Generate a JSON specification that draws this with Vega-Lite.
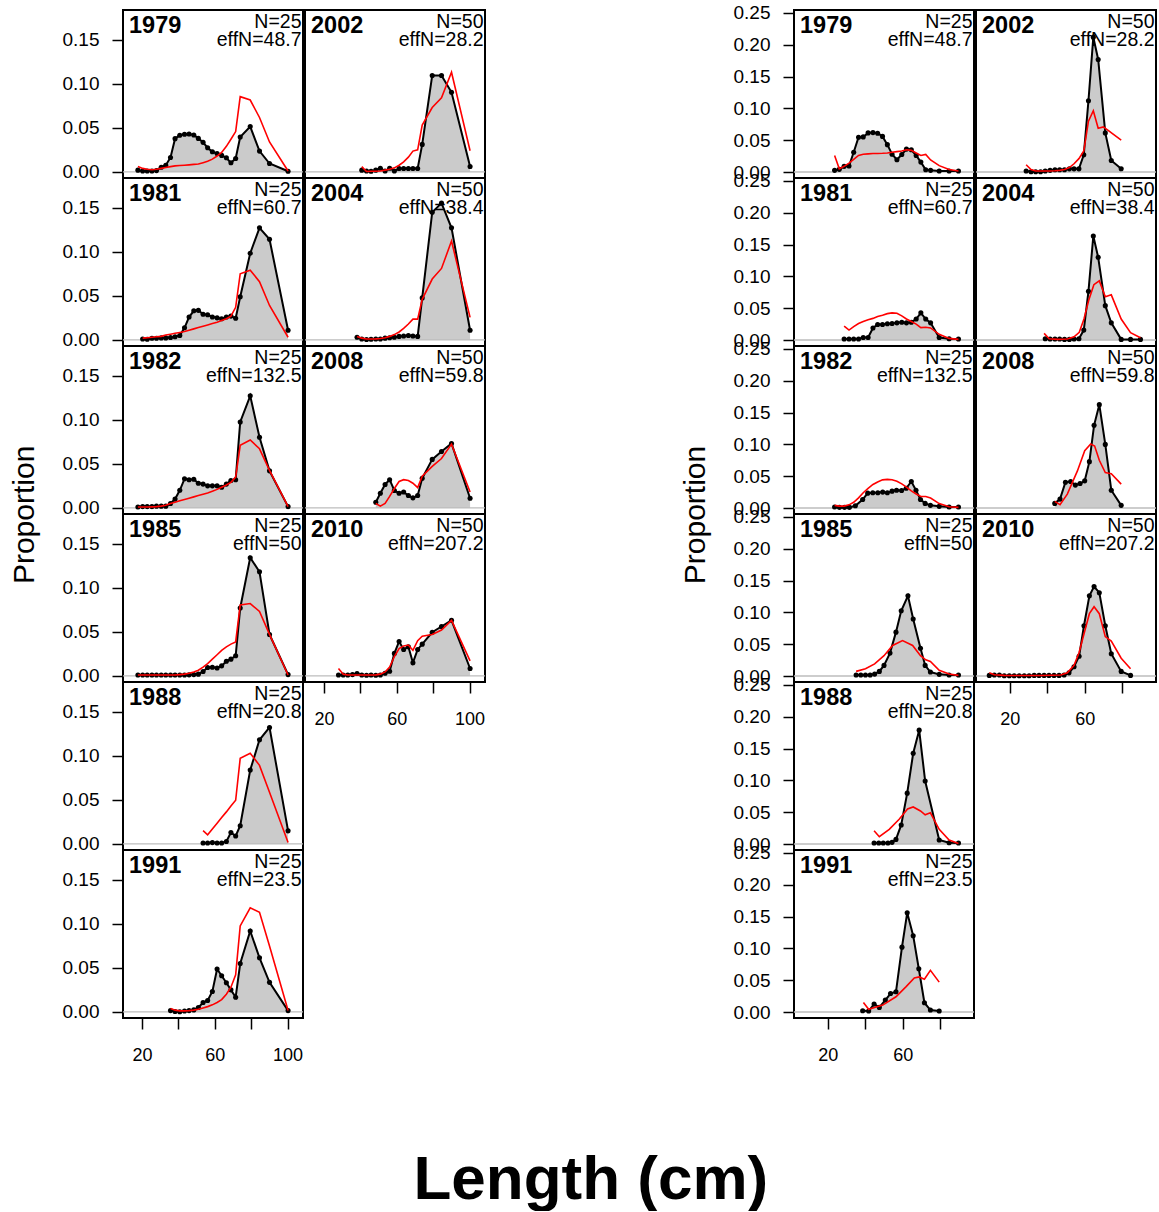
{
"$schema": "https://vega.github.io/schema/vega-lite/v6.json",
"background": "white",
"padding": {"left": 10, "top": 3, "right": 0, "bottom": 0},
"config": {"view": {"stroke": "black", "strokeWidth": 2}, "font": "Liberation Sans"},
"datasets": {
"L1": [
{"yr":"1979","s":"lab","N":"N=25","eff":"effN=48.7"},
{"yr":"1979","s":"o","x":17.8,"y":0.002},{"yr":"1979","s":"o","x":20.4,"y":0.001},{"yr":"1979","s":"o","x":22.9,"y":0.001},{"yr":"1979","s":"o","x":25.5,"y":0.001},{"yr":"1979","s":"o","x":28.0,"y":0.0015},{"yr":"1979","s":"o","x":30.6,"y":0.0053},{"yr":"1979","s":"o","x":33.1,"y":0.0076},{"yr":"1979","s":"o","x":35.7,"y":0.0164},{"yr":"1979","s":"o","x":38.2,"y":0.0377},{"yr":"1979","s":"o","x":40.8,"y":0.0415},{"yr":"1979","s":"o","x":43.4,"y":0.0426},{"yr":"1979","s":"o","x":45.9,"y":0.043},{"yr":"1979","s":"o","x":48.5,"y":0.0419},{"yr":"1979","s":"o","x":51.0,"y":0.038},{"yr":"1979","s":"o","x":53.6,"y":0.0335},{"yr":"1979","s":"o","x":56.1,"y":0.0274},{"yr":"1979","s":"o","x":58.7,"y":0.0228},{"yr":"1979","s":"o","x":61.3,"y":0.0209},{"yr":"1979","s":"o","x":63.8,"y":0.0187},{"yr":"1979","s":"o","x":66.4,"y":0.016},{"yr":"1979","s":"o","x":68.9,"y":0.0103},{"yr":"1979","s":"o","x":71.5,"y":0.0152},{"yr":"1979","s":"o","x":74.0,"y":0.0396},{"yr":"1979","s":"o","x":79.5,"y":0.0514},{"yr":"1979","s":"o","x":84.6,"y":0.0236},{"yr":"1979","s":"o","x":90.1,"y":0.0095},{"yr":"1979","s":"o","x":100.3,"y":0.0008},
{"yr":"1979","s":"e","x":17.8,"y":0.006},{"yr":"1979","s":"e","x":20.4,"y":0.004},{"yr":"1979","s":"e","x":22.9,"y":0.003},{"yr":"1979","s":"e","x":25.5,"y":0.0025},{"yr":"1979","s":"e","x":28.0,"y":0.003},{"yr":"1979","s":"e","x":30.6,"y":0.004},{"yr":"1979","s":"e","x":33.1,"y":0.005},{"yr":"1979","s":"e","x":35.7,"y":0.006},{"yr":"1979","s":"e","x":38.2,"y":0.0068},{"yr":"1979","s":"e","x":40.8,"y":0.0072},{"yr":"1979","s":"e","x":43.4,"y":0.0076},{"yr":"1979","s":"e","x":45.9,"y":0.008},{"yr":"1979","s":"e","x":48.5,"y":0.0085},{"yr":"1979","s":"e","x":51.0,"y":0.009},{"yr":"1979","s":"e","x":53.6,"y":0.0105},{"yr":"1979","s":"e","x":56.1,"y":0.012},{"yr":"1979","s":"e","x":58.7,"y":0.0145},{"yr":"1979","s":"e","x":61.3,"y":0.018},{"yr":"1979","s":"e","x":63.8,"y":0.022},{"yr":"1979","s":"e","x":66.4,"y":0.029},{"yr":"1979","s":"e","x":68.9,"y":0.037},{"yr":"1979","s":"e","x":71.5,"y":0.0457},{"yr":"1979","s":"e","x":74.0,"y":0.0853},{"yr":"1979","s":"e","x":79.5,"y":0.0815},{"yr":"1979","s":"e","x":84.6,"y":0.0617},{"yr":"1979","s":"e","x":90.1,"y":0.0339},{"yr":"1979","s":"e","x":100.3,"y":0.001},
{"yr":"1981","s":"lab","N":"N=25","eff":"effN=60.7"},
{"yr":"1981","s":"o","x":20.4,"y":0.0011},{"yr":"1981","s":"o","x":22.9,"y":0.0008},{"yr":"1981","s":"o","x":25.5,"y":0.0019},{"yr":"1981","s":"o","x":28.0,"y":0.0019},{"yr":"1981","s":"o","x":30.6,"y":0.0023},{"yr":"1981","s":"o","x":33.1,"y":0.0023},{"yr":"1981","s":"o","x":35.7,"y":0.0027},{"yr":"1981","s":"o","x":38.2,"y":0.0035},{"yr":"1981","s":"o","x":40.8,"y":0.005},{"yr":"1981","s":"o","x":43.4,"y":0.0137},{"yr":"1981","s":"o","x":45.9,"y":0.0259},{"yr":"1981","s":"o","x":48.5,"y":0.033},{"yr":"1981","s":"o","x":51.0,"y":0.0335},{"yr":"1981","s":"o","x":53.6,"y":0.029},{"yr":"1981","s":"o","x":56.1,"y":0.0285},{"yr":"1981","s":"o","x":58.7,"y":0.026},{"yr":"1981","s":"o","x":61.3,"y":0.025},{"yr":"1981","s":"o","x":63.8,"y":0.024},{"yr":"1981","s":"o","x":66.4,"y":0.026},{"yr":"1981","s":"o","x":68.9,"y":0.027},{"yr":"1981","s":"o","x":71.5,"y":0.0245},{"yr":"1981","s":"o","x":74.0,"y":0.049},{"yr":"1981","s":"o","x":79.5,"y":0.0982},{"yr":"1981","s":"o","x":84.6,"y":0.127},{"yr":"1981","s":"o","x":90.1,"y":0.114},{"yr":"1981","s":"o","x":100.3,"y":0.011},
{"yr":"1981","s":"e","x":20.4,"y":0.002},{"yr":"1981","s":"e","x":22.9,"y":0.0025},{"yr":"1981","s":"e","x":25.5,"y":0.003},{"yr":"1981","s":"e","x":28.0,"y":0.0035},{"yr":"1981","s":"e","x":30.6,"y":0.004},{"yr":"1981","s":"e","x":33.1,"y":0.0055},{"yr":"1981","s":"e","x":35.7,"y":0.0065},{"yr":"1981","s":"e","x":38.2,"y":0.0075},{"yr":"1981","s":"e","x":40.8,"y":0.0085},{"yr":"1981","s":"e","x":43.4,"y":0.0095},{"yr":"1981","s":"e","x":45.9,"y":0.011},{"yr":"1981","s":"e","x":48.5,"y":0.0125},{"yr":"1981","s":"e","x":51.0,"y":0.014},{"yr":"1981","s":"e","x":53.6,"y":0.0155},{"yr":"1981","s":"e","x":56.1,"y":0.017},{"yr":"1981","s":"e","x":58.7,"y":0.0185},{"yr":"1981","s":"e","x":61.3,"y":0.02},{"yr":"1981","s":"e","x":63.8,"y":0.022},{"yr":"1981","s":"e","x":66.4,"y":0.024},{"yr":"1981","s":"e","x":68.9,"y":0.027},{"yr":"1981","s":"e","x":71.5,"y":0.037},{"yr":"1981","s":"e","x":74.0,"y":0.075},{"yr":"1981","s":"e","x":79.5,"y":0.079},{"yr":"1981","s":"e","x":84.6,"y":0.066},{"yr":"1981","s":"e","x":90.1,"y":0.039},{"yr":"1981","s":"e","x":100.3,"y":0.003},
{"yr":"1982","s":"lab","N":"N=25","eff":"effN=132.5"},
{"yr":"1982","s":"o","x":17.8,"y":0.001},{"yr":"1982","s":"o","x":20.4,"y":0.0015},{"yr":"1982","s":"o","x":22.9,"y":0.0015},{"yr":"1982","s":"o","x":25.5,"y":0.0015},{"yr":"1982","s":"o","x":28.0,"y":0.002},{"yr":"1982","s":"o","x":30.6,"y":0.002},{"yr":"1982","s":"o","x":33.1,"y":0.002},{"yr":"1982","s":"o","x":35.7,"y":0.005},{"yr":"1982","s":"o","x":38.2,"y":0.01},{"yr":"1982","s":"o","x":40.8,"y":0.02},{"yr":"1982","s":"o","x":43.4,"y":0.033},{"yr":"1982","s":"o","x":45.9,"y":0.032},{"yr":"1982","s":"o","x":48.5,"y":0.0325},{"yr":"1982","s":"o","x":51.0,"y":0.028},{"yr":"1982","s":"o","x":53.6,"y":0.027},{"yr":"1982","s":"o","x":56.1,"y":0.025},{"yr":"1982","s":"o","x":58.7,"y":0.025},{"yr":"1982","s":"o","x":61.3,"y":0.025},{"yr":"1982","s":"o","x":63.8,"y":0.0235},{"yr":"1982","s":"o","x":66.4,"y":0.027},{"yr":"1982","s":"o","x":68.9,"y":0.031},{"yr":"1982","s":"o","x":71.5,"y":0.032},{"yr":"1982","s":"o","x":74.0,"y":0.0974},{"yr":"1982","s":"o","x":79.5,"y":0.127},{"yr":"1982","s":"o","x":84.6,"y":0.08},{"yr":"1982","s":"o","x":90.1,"y":0.042},{"yr":"1982","s":"o","x":100.3,"y":0.0015},
{"yr":"1982","s":"e","x":17.8,"y":0.001},{"yr":"1982","s":"e","x":20.4,"y":0.001},{"yr":"1982","s":"e","x":22.9,"y":0.001},{"yr":"1982","s":"e","x":25.5,"y":0.0012},{"yr":"1982","s":"e","x":28.0,"y":0.0015},{"yr":"1982","s":"e","x":30.6,"y":0.002},{"yr":"1982","s":"e","x":33.1,"y":0.003},{"yr":"1982","s":"e","x":35.7,"y":0.005},{"yr":"1982","s":"e","x":38.2,"y":0.0065},{"yr":"1982","s":"e","x":40.8,"y":0.008},{"yr":"1982","s":"e","x":43.4,"y":0.0095},{"yr":"1982","s":"e","x":45.9,"y":0.011},{"yr":"1982","s":"e","x":48.5,"y":0.0125},{"yr":"1982","s":"e","x":51.0,"y":0.014},{"yr":"1982","s":"e","x":53.6,"y":0.0155},{"yr":"1982","s":"e","x":56.1,"y":0.017},{"yr":"1982","s":"e","x":58.7,"y":0.019},{"yr":"1982","s":"e","x":61.3,"y":0.021},{"yr":"1982","s":"e","x":63.8,"y":0.0235},{"yr":"1982","s":"e","x":66.4,"y":0.026},{"yr":"1982","s":"e","x":68.9,"y":0.029},{"yr":"1982","s":"e","x":71.5,"y":0.035},{"yr":"1982","s":"e","x":74.0,"y":0.071},{"yr":"1982","s":"e","x":79.5,"y":0.077},{"yr":"1982","s":"e","x":84.6,"y":0.067},{"yr":"1982","s":"e","x":90.1,"y":0.0426},{"yr":"1982","s":"e","x":100.3,"y":0.0015},
{"yr":"1985","s":"lab","N":"N=25","eff":"effN=50"},
{"yr":"1985","s":"o","x":17.8,"y":0.001},{"yr":"1985","s":"o","x":20.4,"y":0.001},{"yr":"1985","s":"o","x":22.9,"y":0.001},{"yr":"1985","s":"o","x":25.5,"y":0.001},{"yr":"1985","s":"o","x":28.0,"y":0.001},{"yr":"1985","s":"o","x":30.6,"y":0.001},{"yr":"1985","s":"o","x":33.1,"y":0.001},{"yr":"1985","s":"o","x":35.7,"y":0.001},{"yr":"1985","s":"o","x":38.2,"y":0.001},{"yr":"1985","s":"o","x":40.8,"y":0.001},{"yr":"1985","s":"o","x":43.4,"y":0.001},{"yr":"1985","s":"o","x":45.9,"y":0.0012},{"yr":"1985","s":"o","x":48.5,"y":0.0015},{"yr":"1985","s":"o","x":51.0,"y":0.002},{"yr":"1985","s":"o","x":53.6,"y":0.005},{"yr":"1985","s":"o","x":56.1,"y":0.0095},{"yr":"1985","s":"o","x":58.7,"y":0.0099},{"yr":"1985","s":"o","x":61.3,"y":0.009},{"yr":"1985","s":"o","x":63.8,"y":0.0114},{"yr":"1985","s":"o","x":66.4,"y":0.0167},{"yr":"1985","s":"o","x":68.9,"y":0.019},{"yr":"1985","s":"o","x":71.5,"y":0.0228},{"yr":"1985","s":"o","x":74.0,"y":0.077},{"yr":"1985","s":"o","x":79.5,"y":0.134},{"yr":"1985","s":"o","x":84.6,"y":0.118},{"yr":"1985","s":"o","x":90.1,"y":0.047},{"yr":"1985","s":"o","x":100.3,"y":0.0015},
{"yr":"1985","s":"e","x":17.8,"y":0.001},{"yr":"1985","s":"e","x":20.4,"y":0.001},{"yr":"1985","s":"e","x":22.9,"y":0.001},{"yr":"1985","s":"e","x":25.5,"y":0.001},{"yr":"1985","s":"e","x":28.0,"y":0.001},{"yr":"1985","s":"e","x":30.6,"y":0.001},{"yr":"1985","s":"e","x":33.1,"y":0.001},{"yr":"1985","s":"e","x":35.7,"y":0.001},{"yr":"1985","s":"e","x":38.2,"y":0.001},{"yr":"1985","s":"e","x":40.8,"y":0.0015},{"yr":"1985","s":"e","x":43.4,"y":0.002},{"yr":"1985","s":"e","x":45.9,"y":0.003},{"yr":"1985","s":"e","x":48.5,"y":0.0045},{"yr":"1985","s":"e","x":51.0,"y":0.0065},{"yr":"1985","s":"e","x":53.6,"y":0.01},{"yr":"1985","s":"e","x":56.1,"y":0.014},{"yr":"1985","s":"e","x":58.7,"y":0.019},{"yr":"1985","s":"e","x":61.3,"y":0.024},{"yr":"1985","s":"e","x":63.8,"y":0.029},{"yr":"1985","s":"e","x":66.4,"y":0.033},{"yr":"1985","s":"e","x":68.9,"y":0.036},{"yr":"1985","s":"e","x":71.5,"y":0.0385},{"yr":"1985","s":"e","x":74.0,"y":0.0805},{"yr":"1985","s":"e","x":79.5,"y":0.082},{"yr":"1985","s":"e","x":84.6,"y":0.073},{"yr":"1985","s":"e","x":90.1,"y":0.047},{"yr":"1985","s":"e","x":100.3,"y":0.001},
{"yr":"1988","s":"lab","N":"N=25","eff":"effN=20.8"},
{"yr":"1988","s":"o","x":53.6,"y":0.001},{"yr":"1988","s":"o","x":56.1,"y":0.001},{"yr":"1988","s":"o","x":58.7,"y":0.0015},{"yr":"1988","s":"o","x":61.3,"y":0.001},{"yr":"1988","s":"o","x":63.8,"y":0.001},{"yr":"1988","s":"o","x":66.4,"y":0.0027},{"yr":"1988","s":"o","x":68.9,"y":0.013},{"yr":"1988","s":"o","x":71.5,"y":0.009},{"yr":"1988","s":"o","x":74.0,"y":0.0206},{"yr":"1988","s":"o","x":79.5,"y":0.0837},{"yr":"1988","s":"o","x":84.6,"y":0.118},{"yr":"1988","s":"o","x":90.1,"y":0.132},{"yr":"1988","s":"o","x":100.3,"y":0.0148},
{"yr":"1988","s":"e","x":53.6,"y":0.015},{"yr":"1988","s":"e","x":56.1,"y":0.0103},{"yr":"1988","s":"e","x":58.7,"y":0.0168},{"yr":"1988","s":"e","x":61.3,"y":0.0233},{"yr":"1988","s":"e","x":63.8,"y":0.0298},{"yr":"1988","s":"e","x":66.4,"y":0.0363},{"yr":"1988","s":"e","x":68.9,"y":0.043},{"yr":"1988","s":"e","x":71.5,"y":0.0495},{"yr":"1988","s":"e","x":74.0,"y":0.097},{"yr":"1988","s":"e","x":79.5,"y":0.1028},{"yr":"1988","s":"e","x":84.6,"y":0.089},{"yr":"1988","s":"e","x":90.1,"y":0.0586},{"yr":"1988","s":"e","x":100.3,"y":0.0015},
{"yr":"1991","s":"lab","N":"N=25","eff":"effN=23.5"},
{"yr":"1991","s":"o","x":35.7,"y":0.0015},{"yr":"1991","s":"o","x":38.2,"y":0.0004},{"yr":"1991","s":"o","x":40.8,"y":0.0002},{"yr":"1991","s":"o","x":43.4,"y":0.001},{"yr":"1991","s":"o","x":45.9,"y":0.0015},{"yr":"1991","s":"o","x":48.5,"y":0.0023},{"yr":"1991","s":"o","x":51.0,"y":0.005},{"yr":"1991","s":"o","x":53.6,"y":0.0107},{"yr":"1991","s":"o","x":56.1,"y":0.013},{"yr":"1991","s":"o","x":58.7,"y":0.0232},{"yr":"1991","s":"o","x":61.3,"y":0.0487},{"yr":"1991","s":"o","x":63.8,"y":0.041},{"yr":"1991","s":"o","x":66.4,"y":0.033},{"yr":"1991","s":"o","x":68.9,"y":0.025},{"yr":"1991","s":"o","x":71.5,"y":0.0167},{"yr":"1991","s":"o","x":74.0,"y":0.0548},{"yr":"1991","s":"o","x":79.5,"y":0.0917},{"yr":"1991","s":"o","x":84.6,"y":0.0613},{"yr":"1991","s":"o","x":90.1,"y":0.0335},{"yr":"1991","s":"o","x":100.3,"y":0.0015},
{"yr":"1991","s":"e","x":35.7,"y":0.004},{"yr":"1991","s":"e","x":38.2,"y":0.002},{"yr":"1991","s":"e","x":40.8,"y":0.0012},{"yr":"1991","s":"e","x":43.4,"y":0.0012},{"yr":"1991","s":"e","x":45.9,"y":0.0015},{"yr":"1991","s":"e","x":48.5,"y":0.002},{"yr":"1991","s":"e","x":51.0,"y":0.003},{"yr":"1991","s":"e","x":53.6,"y":0.0045},{"yr":"1991","s":"e","x":56.1,"y":0.006},{"yr":"1991","s":"e","x":58.7,"y":0.008},{"yr":"1991","s":"e","x":61.3,"y":0.0107},{"yr":"1991","s":"e","x":63.8,"y":0.014},{"yr":"1991","s":"e","x":66.4,"y":0.02},{"yr":"1991","s":"e","x":68.9,"y":0.028},{"yr":"1991","s":"e","x":71.5,"y":0.042},{"yr":"1991","s":"e","x":74.0,"y":0.0975},{"yr":"1991","s":"e","x":79.5,"y":0.118},{"yr":"1991","s":"e","x":84.6,"y":0.113},{"yr":"1991","s":"e","x":90.1,"y":0.0746},{"yr":"1991","s":"e","x":100.3,"y":0.0015}
],
"L2": [
{"yr":"2002","s":"lab","N":"N=50","eff":"effN=28.2"},
{"yr":"2002","s":"o","x":40.8,"y":0.002},{"yr":"2002","s":"o","x":43.4,"y":0.001},{"yr":"2002","s":"o","x":45.9,"y":0.0008},{"yr":"2002","s":"o","x":48.5,"y":0.002},{"yr":"2002","s":"o","x":51.0,"y":0.0042},{"yr":"2002","s":"o","x":53.6,"y":0.001},{"yr":"2002","s":"o","x":56.1,"y":0.0042},{"yr":"2002","s":"o","x":58.7,"y":0.001},{"yr":"2002","s":"o","x":61.3,"y":0.0038},{"yr":"2002","s":"o","x":63.8,"y":0.0038},{"yr":"2002","s":"o","x":66.4,"y":0.0038},{"yr":"2002","s":"o","x":68.9,"y":0.0038},{"yr":"2002","s":"o","x":71.5,"y":0.0038},{"yr":"2002","s":"o","x":74.0,"y":0.0312},{"yr":"2002","s":"o","x":79.5,"y":0.1093},{"yr":"2002","s":"o","x":84.6,"y":0.1093},{"yr":"2002","s":"o","x":90.1,"y":0.0902},{"yr":"2002","s":"o","x":100.3,"y":0.0061},
{"yr":"2002","s":"e","x":40.8,"y":0.006},{"yr":"2002","s":"e","x":43.4,"y":0.0005},{"yr":"2002","s":"e","x":45.9,"y":0.0008},{"yr":"2002","s":"e","x":48.5,"y":0.0008},{"yr":"2002","s":"e","x":51.0,"y":0.001},{"yr":"2002","s":"e","x":53.6,"y":0.002},{"yr":"2002","s":"e","x":56.1,"y":0.003},{"yr":"2002","s":"e","x":58.7,"y":0.0046},{"yr":"2002","s":"e","x":61.3,"y":0.0076},{"yr":"2002","s":"e","x":63.8,"y":0.0114},{"yr":"2002","s":"e","x":66.4,"y":0.0167},{"yr":"2002","s":"e","x":68.9,"y":0.0236},{"yr":"2002","s":"e","x":71.5,"y":0.025},{"yr":"2002","s":"e","x":74.0,"y":0.053},{"yr":"2002","s":"e","x":79.5,"y":0.073},{"yr":"2002","s":"e","x":84.6,"y":0.084},{"yr":"2002","s":"e","x":90.1,"y":0.113},{"yr":"2002","s":"e","x":100.3,"y":0.024},
{"yr":"2004","s":"lab","N":"N=50","eff":"effN=38.4"},
{"yr":"2004","s":"o","x":38.2,"y":0.003},{"yr":"2004","s":"o","x":40.8,"y":0.001},{"yr":"2004","s":"o","x":43.4,"y":0.0005},{"yr":"2004","s":"o","x":45.9,"y":0.0008},{"yr":"2004","s":"o","x":48.5,"y":0.001},{"yr":"2004","s":"o","x":51.0,"y":0.001},{"yr":"2004","s":"o","x":53.6,"y":0.002},{"yr":"2004","s":"o","x":56.1,"y":0.0025},{"yr":"2004","s":"o","x":58.7,"y":0.003},{"yr":"2004","s":"o","x":61.3,"y":0.004},{"yr":"2004","s":"o","x":63.8,"y":0.0045},{"yr":"2004","s":"o","x":66.4,"y":0.005},{"yr":"2004","s":"o","x":68.9,"y":0.0045},{"yr":"2004","s":"o","x":71.5,"y":0.004},{"yr":"2004","s":"o","x":74.0,"y":0.0476},{"yr":"2004","s":"o","x":79.5,"y":0.1447},{"yr":"2004","s":"o","x":84.6,"y":0.155},{"yr":"2004","s":"o","x":90.1,"y":0.127},{"yr":"2004","s":"o","x":100.3,"y":0.011},
{"yr":"2004","s":"e","x":38.2,"y":0.004},{"yr":"2004","s":"e","x":40.8,"y":0.002},{"yr":"2004","s":"e","x":43.4,"y":0.001},{"yr":"2004","s":"e","x":45.9,"y":0.001},{"yr":"2004","s":"e","x":48.5,"y":0.0012},{"yr":"2004","s":"e","x":51.0,"y":0.0016},{"yr":"2004","s":"e","x":53.6,"y":0.0025},{"yr":"2004","s":"e","x":56.1,"y":0.004},{"yr":"2004","s":"e","x":58.7,"y":0.006},{"yr":"2004","s":"e","x":61.3,"y":0.009},{"yr":"2004","s":"e","x":63.8,"y":0.013},{"yr":"2004","s":"e","x":66.4,"y":0.018},{"yr":"2004","s":"e","x":68.9,"y":0.0236},{"yr":"2004","s":"e","x":71.5,"y":0.0236},{"yr":"2004","s":"e","x":74.0,"y":0.046},{"yr":"2004","s":"e","x":79.5,"y":0.069},{"yr":"2004","s":"e","x":84.6,"y":0.081},{"yr":"2004","s":"e","x":90.1,"y":0.112},{"yr":"2004","s":"e","x":100.3,"y":0.0255},
{"yr":"2008","s":"lab","N":"N=50","eff":"effN=59.8"},
{"yr":"2008","s":"o","x":48.5,"y":0.0065},{"yr":"2008","s":"o","x":51.0,"y":0.0167},{"yr":"2008","s":"o","x":53.6,"y":0.0266},{"yr":"2008","s":"o","x":56.1,"y":0.032},{"yr":"2008","s":"o","x":58.7,"y":0.0198},{"yr":"2008","s":"o","x":61.3,"y":0.0167},{"yr":"2008","s":"o","x":63.8,"y":0.018},{"yr":"2008","s":"o","x":66.4,"y":0.014},{"yr":"2008","s":"o","x":68.9,"y":0.0114},{"yr":"2008","s":"o","x":71.5,"y":0.014},{"yr":"2008","s":"o","x":74.0,"y":0.0335},{"yr":"2008","s":"o","x":79.5,"y":0.055},{"yr":"2008","s":"o","x":84.6,"y":0.064},{"yr":"2008","s":"o","x":90.1,"y":0.073},{"yr":"2008","s":"o","x":100.3,"y":0.011},
{"yr":"2008","s":"e","x":48.5,"y":0.005},{"yr":"2008","s":"e","x":51.0,"y":0.002},{"yr":"2008","s":"e","x":53.6,"y":0.005},{"yr":"2008","s":"e","x":56.1,"y":0.013},{"yr":"2008","s":"e","x":58.7,"y":0.022},{"yr":"2008","s":"e","x":61.3,"y":0.03},{"yr":"2008","s":"e","x":63.8,"y":0.032},{"yr":"2008","s":"e","x":66.4,"y":0.031},{"yr":"2008","s":"e","x":68.9,"y":0.028},{"yr":"2008","s":"e","x":71.5,"y":0.023},{"yr":"2008","s":"e","x":74.0,"y":0.036},{"yr":"2008","s":"e","x":79.5,"y":0.047},{"yr":"2008","s":"e","x":84.6,"y":0.056},{"yr":"2008","s":"e","x":90.1,"y":0.0723},{"yr":"2008","s":"e","x":100.3,"y":0.018},
{"yr":"2010","s":"lab","N":"N=50","eff":"effN=207.2"},
{"yr":"2010","s":"o","x":28.0,"y":0.001},{"yr":"2010","s":"o","x":30.6,"y":0.001},{"yr":"2010","s":"o","x":33.1,"y":0.001},{"yr":"2010","s":"o","x":35.7,"y":0.0015},{"yr":"2010","s":"o","x":38.2,"y":0.0027},{"yr":"2010","s":"o","x":40.8,"y":0.001},{"yr":"2010","s":"o","x":43.4,"y":0.0008},{"yr":"2010","s":"o","x":45.9,"y":0.001},{"yr":"2010","s":"o","x":48.5,"y":0.0008},{"yr":"2010","s":"o","x":51.0,"y":0.001},{"yr":"2010","s":"o","x":53.6,"y":0.003},{"yr":"2010","s":"o","x":56.1,"y":0.0053},{"yr":"2010","s":"o","x":58.7,"y":0.0255},{"yr":"2010","s":"o","x":61.3,"y":0.039},{"yr":"2010","s":"o","x":63.8,"y":0.03},{"yr":"2010","s":"o","x":66.4,"y":0.033},{"yr":"2010","s":"o","x":68.9,"y":0.015},{"yr":"2010","s":"o","x":71.5,"y":0.03},{"yr":"2010","s":"o","x":74.0,"y":0.036},{"yr":"2010","s":"o","x":79.5,"y":0.0495},{"yr":"2010","s":"o","x":84.6,"y":0.056},{"yr":"2010","s":"o","x":90.1,"y":0.063},{"yr":"2010","s":"o","x":100.3,"y":0.0084},
{"yr":"2010","s":"e","x":28.0,"y":0.0085},{"yr":"2010","s":"e","x":30.6,"y":0.002},{"yr":"2010","s":"e","x":33.1,"y":0.001},{"yr":"2010","s":"e","x":35.7,"y":0.001},{"yr":"2010","s":"e","x":38.2,"y":0.001},{"yr":"2010","s":"e","x":40.8,"y":0.001},{"yr":"2010","s":"e","x":43.4,"y":0.001},{"yr":"2010","s":"e","x":45.9,"y":0.001},{"yr":"2010","s":"e","x":48.5,"y":0.0012},{"yr":"2010","s":"e","x":51.0,"y":0.002},{"yr":"2010","s":"e","x":53.6,"y":0.0045},{"yr":"2010","s":"e","x":56.1,"y":0.01},{"yr":"2010","s":"e","x":58.7,"y":0.022},{"yr":"2010","s":"e","x":61.3,"y":0.031},{"yr":"2010","s":"e","x":63.8,"y":0.034},{"yr":"2010","s":"e","x":66.4,"y":0.035},{"yr":"2010","s":"e","x":68.9,"y":0.029},{"yr":"2010","s":"e","x":71.5,"y":0.04},{"yr":"2010","s":"e","x":74.0,"y":0.045},{"yr":"2010","s":"e","x":79.5,"y":0.047},{"yr":"2010","s":"e","x":84.6,"y":0.052},{"yr":"2010","s":"e","x":90.1,"y":0.063},{"yr":"2010","s":"e","x":100.3,"y":0.017}
],
"R1": [
{"yr":"1979","s":"lab","N":"N=25","eff":"effN=48.7"},
{"yr":"1979","s":"o","x":23.6,"y":0.0026},{"yr":"1979","s":"o","x":26.1,"y":0.0042},{"yr":"1979","s":"o","x":28.7,"y":0.0089},{"yr":"1979","s":"o","x":31.3,"y":0.0094},{"yr":"1979","s":"o","x":33.8,"y":0.031},{"yr":"1979","s":"o","x":36.4,"y":0.0547},{"yr":"1979","s":"o","x":38.9,"y":0.0552},{"yr":"1979","s":"o","x":41.5,"y":0.0615},{"yr":"1979","s":"o","x":44.1,"y":0.062},{"yr":"1979","s":"o","x":46.6,"y":0.061},{"yr":"1979","s":"o","x":49.2,"y":0.056},{"yr":"1979","s":"o","x":51.8,"y":0.043},{"yr":"1979","s":"o","x":54.3,"y":0.028},{"yr":"1979","s":"o","x":56.9,"y":0.0193},{"yr":"1979","s":"o","x":59.5,"y":0.0276},{"yr":"1979","s":"o","x":62.0,"y":0.036},{"yr":"1979","s":"o","x":64.6,"y":0.035},{"yr":"1979","s":"o","x":67.2,"y":0.026},{"yr":"1979","s":"o","x":69.7,"y":0.0156},{"yr":"1979","s":"o","x":72.3,"y":0.0036},{"yr":"1979","s":"o","x":74.9,"y":0.0026},{"yr":"1979","s":"o","x":79.5,"y":0.0016},{"yr":"1979","s":"o","x":84.8,"y":0.0016},{"yr":"1979","s":"o","x":89.8,"y":0.0016},
{"yr":"1979","s":"e","x":23.6,"y":0.026},{"yr":"1979","s":"e","x":26.1,"y":0.005},{"yr":"1979","s":"e","x":28.7,"y":0.009},{"yr":"1979","s":"e","x":31.3,"y":0.014},{"yr":"1979","s":"e","x":33.8,"y":0.02},{"yr":"1979","s":"e","x":36.4,"y":0.026},{"yr":"1979","s":"e","x":38.9,"y":0.028},{"yr":"1979","s":"e","x":41.5,"y":0.0285},{"yr":"1979","s":"e","x":44.1,"y":0.029},{"yr":"1979","s":"e","x":46.6,"y":0.0292},{"yr":"1979","s":"e","x":49.2,"y":0.0295},{"yr":"1979","s":"e","x":51.8,"y":0.03},{"yr":"1979","s":"e","x":54.3,"y":0.031},{"yr":"1979","s":"e","x":56.9,"y":0.032},{"yr":"1979","s":"e","x":59.5,"y":0.033},{"yr":"1979","s":"e","x":62.0,"y":0.035},{"yr":"1979","s":"e","x":64.6,"y":0.034},{"yr":"1979","s":"e","x":67.2,"y":0.03},{"yr":"1979","s":"e","x":69.7,"y":0.026},{"yr":"1979","s":"e","x":72.3,"y":0.0276},{"yr":"1979","s":"e","x":74.9,"y":0.019},{"yr":"1979","s":"e","x":79.5,"y":0.01},{"yr":"1979","s":"e","x":84.8,"y":0.004},{"yr":"1979","s":"e","x":89.8,"y":0.0016},
{"yr":"1981","s":"lab","N":"N=25","eff":"effN=60.7"},
{"yr":"1981","s":"o","x":28.7,"y":0.0016},{"yr":"1981","s":"o","x":31.3,"y":0.0016},{"yr":"1981","s":"o","x":33.8,"y":0.0016},{"yr":"1981","s":"o","x":36.4,"y":0.0016},{"yr":"1981","s":"o","x":38.9,"y":0.004},{"yr":"1981","s":"o","x":41.5,"y":0.004},{"yr":"1981","s":"o","x":44.1,"y":0.019},{"yr":"1981","s":"o","x":46.6,"y":0.0245},{"yr":"1981","s":"o","x":49.2,"y":0.0245},{"yr":"1981","s":"o","x":51.8,"y":0.0255},{"yr":"1981","s":"o","x":54.3,"y":0.026},{"yr":"1981","s":"o","x":56.9,"y":0.027},{"yr":"1981","s":"o","x":59.5,"y":0.028},{"yr":"1981","s":"o","x":62.0,"y":0.027},{"yr":"1981","s":"o","x":64.6,"y":0.028},{"yr":"1981","s":"o","x":67.2,"y":0.033},{"yr":"1981","s":"o","x":69.7,"y":0.0427},{"yr":"1981","s":"o","x":72.3,"y":0.033},{"yr":"1981","s":"o","x":74.9,"y":0.027},{"yr":"1981","s":"o","x":79.5,"y":0.004},{"yr":"1981","s":"o","x":84.8,"y":0.002},{"yr":"1981","s":"o","x":89.8,"y":0.0016},
{"yr":"1981","s":"e","x":28.7,"y":0.022},{"yr":"1981","s":"e","x":31.3,"y":0.0156},{"yr":"1981","s":"e","x":33.8,"y":0.021},{"yr":"1981","s":"e","x":36.4,"y":0.026},{"yr":"1981","s":"e","x":38.9,"y":0.029},{"yr":"1981","s":"e","x":41.5,"y":0.032},{"yr":"1981","s":"e","x":44.1,"y":0.034},{"yr":"1981","s":"e","x":46.6,"y":0.037},{"yr":"1981","s":"e","x":49.2,"y":0.039},{"yr":"1981","s":"e","x":51.8,"y":0.0415},{"yr":"1981","s":"e","x":54.3,"y":0.0427},{"yr":"1981","s":"e","x":56.9,"y":0.042},{"yr":"1981","s":"e","x":59.5,"y":0.038},{"yr":"1981","s":"e","x":62.0,"y":0.033},{"yr":"1981","s":"e","x":64.6,"y":0.029},{"yr":"1981","s":"e","x":67.2,"y":0.025},{"yr":"1981","s":"e","x":69.7,"y":0.0195},{"yr":"1981","s":"e","x":72.3,"y":0.02},{"yr":"1981","s":"e","x":74.9,"y":0.019},{"yr":"1981","s":"e","x":79.5,"y":0.009},{"yr":"1981","s":"e","x":84.8,"y":0.0026},{"yr":"1981","s":"e","x":89.8,"y":0.001},
{"yr":"1982","s":"lab","N":"N=25","eff":"effN=132.5"},
{"yr":"1982","s":"o","x":23.6,"y":0.0016},{"yr":"1982","s":"o","x":26.2,"y":0.001},{"yr":"1982","s":"o","x":28.9,"y":0.001},{"yr":"1982","s":"o","x":31.5,"y":0.001},{"yr":"1982","s":"o","x":34.7,"y":0.0036},{"yr":"1982","s":"o","x":38.6,"y":0.0135},{"yr":"1982","s":"o","x":41.3,"y":0.0234},{"yr":"1982","s":"o","x":44.0,"y":0.024},{"yr":"1982","s":"o","x":46.7,"y":0.024},{"yr":"1982","s":"o","x":49.3,"y":0.025},{"yr":"1982","s":"o","x":51.8,"y":0.024},{"yr":"1982","s":"o","x":54.3,"y":0.0265},{"yr":"1982","s":"o","x":56.7,"y":0.028},{"yr":"1982","s":"o","x":59.4,"y":0.0276},{"yr":"1982","s":"o","x":61.9,"y":0.031},{"yr":"1982","s":"o","x":64.6,"y":0.0417},{"yr":"1982","s":"o","x":67.1,"y":0.028},{"yr":"1982","s":"o","x":69.5,"y":0.0135},{"yr":"1982","s":"o","x":72.0,"y":0.0073},{"yr":"1982","s":"o","x":74.8,"y":0.0042},{"yr":"1982","s":"o","x":79.5,"y":0.0026},{"yr":"1982","s":"o","x":84.8,"y":0.0016},{"yr":"1982","s":"o","x":89.8,"y":0.0016},
{"yr":"1982","s":"e","x":23.6,"y":0.0042},{"yr":"1982","s":"e","x":26.1,"y":0.003},{"yr":"1982","s":"e","x":28.7,"y":0.003},{"yr":"1982","s":"e","x":31.3,"y":0.005},{"yr":"1982","s":"e","x":33.8,"y":0.009},{"yr":"1982","s":"e","x":36.4,"y":0.016},{"yr":"1982","s":"e","x":38.9,"y":0.024},{"yr":"1982","s":"e","x":41.5,"y":0.031},{"yr":"1982","s":"e","x":44.1,"y":0.037},{"yr":"1982","s":"e","x":46.6,"y":0.041},{"yr":"1982","s":"e","x":49.2,"y":0.0443},{"yr":"1982","s":"e","x":51.8,"y":0.045},{"yr":"1982","s":"e","x":54.3,"y":0.0445},{"yr":"1982","s":"e","x":56.9,"y":0.042},{"yr":"1982","s":"e","x":59.5,"y":0.038},{"yr":"1982","s":"e","x":62.0,"y":0.033},{"yr":"1982","s":"e","x":64.6,"y":0.027},{"yr":"1982","s":"e","x":67.2,"y":0.022},{"yr":"1982","s":"e","x":69.7,"y":0.018},{"yr":"1982","s":"e","x":72.3,"y":0.018},{"yr":"1982","s":"e","x":74.9,"y":0.0156},{"yr":"1982","s":"e","x":79.5,"y":0.007},{"yr":"1982","s":"e","x":84.8,"y":0.002},{"yr":"1982","s":"e","x":89.8,"y":0.001},
{"yr":"1985","s":"lab","N":"N=25","eff":"effN=50"},
{"yr":"1985","s":"o","x":35.1,"y":0.0016},{"yr":"1985","s":"o","x":37.6,"y":0.0016},{"yr":"1985","s":"o","x":40.1,"y":0.0016},{"yr":"1985","s":"o","x":42.6,"y":0.0016},{"yr":"1985","s":"o","x":45.0,"y":0.003},{"yr":"1985","s":"o","x":47.5,"y":0.0073},{"yr":"1985","s":"o","x":50.0,"y":0.0167},{"yr":"1985","s":"o","x":53.2,"y":0.036},{"yr":"1985","s":"o","x":56.4,"y":0.069},{"yr":"1985","s":"o","x":59.2,"y":0.1026},{"yr":"1985","s":"o","x":62.8,"y":0.126},{"yr":"1985","s":"o","x":65.6,"y":0.0896},{"yr":"1985","s":"o","x":69.5,"y":0.0437},{"yr":"1985","s":"o","x":72.0,"y":0.0167},{"yr":"1985","s":"o","x":74.8,"y":0.0063},{"yr":"1985","s":"o","x":79.5,"y":0.0026},{"yr":"1985","s":"o","x":84.8,"y":0.0016},{"yr":"1985","s":"o","x":89.8,"y":0.0016},
{"yr":"1985","s":"e","x":35.1,"y":0.0073},{"yr":"1985","s":"e","x":40.1,"y":0.0115},{"yr":"1985","s":"e","x":45.0,"y":0.019},{"yr":"1985","s":"e","x":50.0,"y":0.032},{"yr":"1985","s":"e","x":54.6,"y":0.048},{"yr":"1985","s":"e","x":59.9,"y":0.0557},{"yr":"1985","s":"e","x":65.3,"y":0.048},{"yr":"1985","s":"e","x":69.5,"y":0.032},{"yr":"1985","s":"e","x":72.3,"y":0.0255},{"yr":"1985","s":"e","x":74.8,"y":0.023},{"yr":"1985","s":"e","x":79.5,"y":0.0089},{"yr":"1985","s":"e","x":84.8,"y":0.0031},{"yr":"1985","s":"e","x":89.8,"y":0.001},
{"yr":"1988","s":"lab","N":"N=25","eff":"effN=20.8"},
{"yr":"1988","s":"o","x":44.7,"y":0.0016},{"yr":"1988","s":"o","x":47.2,"y":0.0016},{"yr":"1988","s":"o","x":49.6,"y":0.0016},{"yr":"1988","s":"o","x":52.1,"y":0.0016},{"yr":"1988","s":"o","x":54.3,"y":0.0026},{"yr":"1988","s":"o","x":56.4,"y":0.0073},{"yr":"1988","s":"o","x":59.2,"y":0.03},{"yr":"1988","s":"o","x":62.4,"y":0.08},{"yr":"1988","s":"o","x":65.6,"y":0.1427},{"yr":"1988","s":"o","x":68.8,"y":0.179},{"yr":"1988","s":"o","x":72.0,"y":0.099},{"yr":"1988","s":"o","x":79.5,"y":0.0063},{"yr":"1988","s":"o","x":84.8,"y":0.002},{"yr":"1988","s":"o","x":89.8,"y":0.0016},
{"yr":"1988","s":"e","x":44.7,"y":0.0208},{"yr":"1988","s":"e","x":47.5,"y":0.0115},{"yr":"1988","s":"e","x":52.8,"y":0.023},{"yr":"1988","s":"e","x":58.1,"y":0.039},{"yr":"1988","s":"e","x":62.6,"y":0.055},{"yr":"1988","s":"e","x":65.6,"y":0.0583},{"yr":"1988","s":"e","x":69.5,"y":0.052},{"yr":"1988","s":"e","x":72.0,"y":0.046},{"yr":"1988","s":"e","x":74.8,"y":0.049},{"yr":"1988","s":"e","x":79.5,"y":0.023},{"yr":"1988","s":"e","x":84.8,"y":0.0063},{"yr":"1988","s":"e","x":89.8,"y":0.001},
{"yr":"1991","s":"lab","N":"N=25","eff":"effN=23.5"},
{"yr":"1991","s":"o","x":38.6,"y":0.002},{"yr":"1991","s":"o","x":41.8,"y":0.0016},{"yr":"1991","s":"o","x":44.7,"y":0.0125},{"yr":"1991","s":"o","x":47.5,"y":0.0073},{"yr":"1991","s":"o","x":50.7,"y":0.0188},{"yr":"1991","s":"o","x":53.5,"y":0.029},{"yr":"1991","s":"o","x":56.4,"y":0.0318},{"yr":"1991","s":"o","x":59.6,"y":0.102},{"yr":"1991","s":"o","x":62.4,"y":0.156},{"yr":"1991","s":"o","x":65.6,"y":0.12},{"yr":"1991","s":"o","x":68.6,"y":0.068},{"yr":"1991","s":"o","x":71.6,"y":0.0146},{"yr":"1991","s":"o","x":74.8,"y":0.0031},{"yr":"1991","s":"o","x":79.5,"y":0.0016},
{"yr":"1991","s":"e","x":39.0,"y":0.0151},{"yr":"1991","s":"e","x":41.8,"y":0.0042},{"yr":"1991","s":"e","x":49.3,"y":0.0109},{"yr":"1991","s":"e","x":56.4,"y":0.024},{"yr":"1991","s":"e","x":61.7,"y":0.0396},{"yr":"1991","s":"e","x":66.2,"y":0.0536},{"yr":"1991","s":"e","x":68.8,"y":0.0552},{"yr":"1991","s":"e","x":71.6,"y":0.0516},{"yr":"1991","s":"e","x":74.8,"y":0.0656},{"yr":"1991","s":"e","x":79.5,"y":0.047}
],
"R2": [
{"yr":"2002","s":"lab","N":"N=50","eff":"effN=28.2"},
{"yr":"2002","s":"o","x":28.7,"y":0.0016},{"yr":"2002","s":"o","x":31.3,"y":0.0005},{"yr":"2002","s":"o","x":33.8,"y":0.0005},{"yr":"2002","s":"o","x":36.4,"y":0.0005},{"yr":"2002","s":"o","x":38.9,"y":0.0016},{"yr":"2002","s":"o","x":41.5,"y":0.0026},{"yr":"2002","s":"o","x":44.1,"y":0.0036},{"yr":"2002","s":"o","x":46.6,"y":0.0036},{"yr":"2002","s":"o","x":49.2,"y":0.0036},{"yr":"2002","s":"o","x":51.8,"y":0.005},{"yr":"2002","s":"o","x":54.3,"y":0.005},{"yr":"2002","s":"o","x":56.9,"y":0.005},{"yr":"2002","s":"o","x":59.5,"y":0.027},{"yr":"2002","s":"o","x":62.0,"y":0.112},{"yr":"2002","s":"o","x":64.6,"y":0.212},{"yr":"2002","s":"o","x":67.2,"y":0.177},{"yr":"2002","s":"o","x":71.0,"y":0.0615},{"yr":"2002","s":"o","x":74.2,"y":0.018},{"yr":"2002","s":"o","x":79.5,"y":0.0052},
{"yr":"2002","s":"e","x":28.7,"y":0.0115},{"yr":"2002","s":"e","x":31.3,"y":0.004},{"yr":"2002","s":"e","x":33.8,"y":0.0016},{"yr":"2002","s":"e","x":36.4,"y":0.0016},{"yr":"2002","s":"e","x":38.9,"y":0.0016},{"yr":"2002","s":"e","x":41.5,"y":0.0016},{"yr":"2002","s":"e","x":44.1,"y":0.002},{"yr":"2002","s":"e","x":46.6,"y":0.0026},{"yr":"2002","s":"e","x":49.2,"y":0.004},{"yr":"2002","s":"e","x":51.8,"y":0.007},{"yr":"2002","s":"e","x":54.3,"y":0.013},{"yr":"2002","s":"e","x":56.9,"y":0.021},{"yr":"2002","s":"e","x":59.5,"y":0.033},{"yr":"2002","s":"e","x":62.0,"y":0.08},{"yr":"2002","s":"e","x":64.6,"y":0.0964},{"yr":"2002","s":"e","x":67.2,"y":0.0688},{"yr":"2002","s":"e","x":70.0,"y":0.071},{"yr":"2002","s":"e","x":79.5,"y":0.05},
{"yr":"2004","s":"lab","N":"N=50","eff":"effN=38.4"},
{"yr":"2004","s":"o","x":38.9,"y":0.002},{"yr":"2004","s":"o","x":41.5,"y":0.0016},{"yr":"2004","s":"o","x":44.1,"y":0.0016},{"yr":"2004","s":"o","x":46.6,"y":0.0016},{"yr":"2004","s":"o","x":49.2,"y":0.001},{"yr":"2004","s":"o","x":51.8,"y":0.001},{"yr":"2004","s":"o","x":54.3,"y":0.0016},{"yr":"2004","s":"o","x":56.9,"y":0.002},{"yr":"2004","s":"o","x":59.5,"y":0.0156},{"yr":"2004","s":"o","x":62.0,"y":0.0766},{"yr":"2004","s":"o","x":64.6,"y":0.1635},{"yr":"2004","s":"o","x":67.2,"y":0.13},{"yr":"2004","s":"o","x":71.0,"y":0.054},{"yr":"2004","s":"o","x":74.2,"y":0.027},{"yr":"2004","s":"o","x":79.5,"y":0.001},{"yr":"2004","s":"o","x":84.5,"y":0.001},{"yr":"2004","s":"o","x":89.8,"y":0.001},
{"yr":"2004","s":"e","x":38.3,"y":0.0104},{"yr":"2004","s":"e","x":41.0,"y":0.002},{"yr":"2004","s":"e","x":45.4,"y":0.001},{"yr":"2004","s":"e","x":50.7,"y":0.0016},{"yr":"2004","s":"e","x":54.3,"y":0.005},{"yr":"2004","s":"e","x":57.1,"y":0.012},{"yr":"2004","s":"e","x":59.6,"y":0.033},{"yr":"2004","s":"e","x":62.1,"y":0.062},{"yr":"2004","s":"e","x":64.9,"y":0.087},{"yr":"2004","s":"e","x":67.8,"y":0.093},{"yr":"2004","s":"e","x":71.0,"y":0.068},{"yr":"2004","s":"e","x":74.2,"y":0.071},{"yr":"2004","s":"e","x":79.5,"y":0.033},{"yr":"2004","s":"e","x":84.5,"y":0.0115},{"yr":"2004","s":"e","x":89.8,"y":0.0036},
{"yr":"2008","s":"lab","N":"N=50","eff":"effN=59.8"},
{"yr":"2008","s":"o","x":44.0,"y":0.0073},{"yr":"2008","s":"o","x":46.8,"y":0.014},{"yr":"2008","s":"o","x":49.7,"y":0.0406},{"yr":"2008","s":"o","x":52.5,"y":0.0417},{"yr":"2008","s":"o","x":55.0,"y":0.036},{"yr":"2008","s":"o","x":57.5,"y":0.0385},{"yr":"2008","s":"o","x":60.0,"y":0.0427},{"yr":"2008","s":"o","x":62.5,"y":0.0729},{"yr":"2008","s":"o","x":65.0,"y":0.13},{"yr":"2008","s":"o","x":67.8,"y":0.1625},{"yr":"2008","s":"o","x":71.0,"y":0.1},{"yr":"2008","s":"o","x":74.2,"y":0.028},{"yr":"2008","s":"o","x":79.5,"y":0.0042},
{"yr":"2008","s":"e","x":44.0,"y":0.0104},{"yr":"2008","s":"e","x":46.8,"y":0.0052},{"yr":"2008","s":"e","x":50.7,"y":0.0219},{"yr":"2008","s":"e","x":56.1,"y":0.0583},{"yr":"2008","s":"e","x":60.0,"y":0.09},{"yr":"2008","s":"e","x":63.2,"y":0.1005},{"yr":"2008","s":"e","x":65.3,"y":0.0974},{"yr":"2008","s":"e","x":67.8,"y":0.075},{"yr":"2008","s":"e","x":71.0,"y":0.0557},{"yr":"2008","s":"e","x":74.2,"y":0.054},{"yr":"2008","s":"e","x":79.5,"y":0.0375},
{"yr":"2010","s":"lab","N":"N=50","eff":"effN=207.2"},
{"yr":"2010","s":"o","x":9.0,"y":0.001},{"yr":"2010","s":"o","x":11.7,"y":0.0016},{"yr":"2010","s":"o","x":14.4,"y":0.0016},{"yr":"2010","s":"o","x":17.0,"y":0.0005},{"yr":"2010","s":"o","x":19.7,"y":0.0005},{"yr":"2010","s":"o","x":22.3,"y":0.0005},{"yr":"2010","s":"o","x":25.0,"y":0.0005},{"yr":"2010","s":"o","x":27.7,"y":0.0005},{"yr":"2010","s":"o","x":30.3,"y":0.0005},{"yr":"2010","s":"o","x":33.0,"y":0.001},{"yr":"2010","s":"o","x":35.6,"y":0.001},{"yr":"2010","s":"o","x":38.3,"y":0.001},{"yr":"2010","s":"o","x":40.9,"y":0.001},{"yr":"2010","s":"o","x":43.6,"y":0.001},{"yr":"2010","s":"o","x":46.3,"y":0.001},{"yr":"2010","s":"o","x":49.0,"y":0.0016},{"yr":"2010","s":"o","x":51.6,"y":0.005},{"yr":"2010","s":"o","x":54.3,"y":0.0146},{"yr":"2010","s":"o","x":57.0,"y":0.031},{"yr":"2010","s":"o","x":59.6,"y":0.079},{"yr":"2010","s":"o","x":62.5,"y":0.126},{"yr":"2010","s":"o","x":65.0,"y":0.1406},{"yr":"2010","s":"o","x":67.8,"y":0.131},{"yr":"2010","s":"o","x":71.0,"y":0.079},{"yr":"2010","s":"o","x":74.2,"y":0.035},{"yr":"2010","s":"o","x":79.5,"y":0.0073},{"yr":"2010","s":"o","x":84.5,"y":0.001},
{"yr":"2010","s":"e","x":9.0,"y":0.005},{"yr":"2010","s":"e","x":11.7,"y":0.002},{"yr":"2010","s":"e","x":17.0,"y":0.001},{"yr":"2010","s":"e","x":25.9,"y":0.0008},{"yr":"2010","s":"e","x":36.6,"y":0.0008},{"yr":"2010","s":"e","x":47.2,"y":0.0016},{"yr":"2010","s":"e","x":50.7,"y":0.005},{"yr":"2010","s":"e","x":54.3,"y":0.017},{"yr":"2010","s":"e","x":57.0,"y":0.037},{"yr":"2010","s":"e","x":59.6,"y":0.066},{"yr":"2010","s":"e","x":62.5,"y":0.098},{"yr":"2010","s":"e","x":65.0,"y":0.109},{"yr":"2010","s":"e","x":67.8,"y":0.098},{"yr":"2010","s":"e","x":71.0,"y":0.062},{"yr":"2010","s":"e","x":74.2,"y":0.055},{"yr":"2010","s":"e","x":79.5,"y":0.028},{"yr":"2010","s":"e","x":84.5,"y":0.0115}
]
},
"title": {"text": "Length (cm)", "orient": "bottom", "anchor": "middle", "fontSize": 62, "fontWeight": "bold", "font": "Liberation Sans", "color": "black", "offset": 86, "dx": 7},
"spacing": 194,
"hconcat": [
{
"spacing": -2,
"title": {"text": "Proportion", "orient": "left", "anchor": "middle", "fontSize": 30, "fontWeight": "normal", "font": "Liberation Sans", "color": "black", "offset": 22, "dx": 19},
"hconcat": [
{
"data": {"name": "L1"},
"bounds": "flush",
"spacing": 0,
"facet": {"row": {"field": "yr", "type": "nominal", "title": null, "header": {"labels": false, "title": null}}},
"spec": {
"width": 180, "height": 168,
"layer": [
{"transform": [{"filter": "datum.s == 'o'"}], "mark": {"type": "area", "color": "#cbcbcb", "opacity": 1},
 "encoding": {
  "x": {"field": "x", "type": "quantitative", "title": null, "scale": {"domain": [9.6, 108.5], "nice": false, "zero": false}, "axis": {"values": [20, 40, 60, 80, 100], "tickCount": 10, "labelExpr": "datum.value % 40 == 20 ? datum.label : ''", "domain": false, "grid": false, "tickSize": 11, "tickWidth": 1.5, "tickColor": "black", "labelFontSize": 18, "labelPadding": 17, "labelFlush": false, "labelOverlap": false, "labelColor": "black"}},
  "y": {"field": "y", "type": "quantitative", "title": null, "scale": {"domain": [-0.0069, 0.1835], "nice": false, "zero": false}, "axis": {"values": [0, 0.05, 0.1, 0.15, 0.1804], "tickCount": 10, "format": ".2f", "domain": false, "grid": false, "tickSize": 11, "tickWidth": 1.5, "tickColor": "black", "labelFontSize": 19, "labelPadding": 13, "labelOverlap": false, "labelColor": "black", "labelOpacity": {"condition": {"test": "datum.value > 0.17", "value": 0}, "value": 1}, "tickOpacity": {"condition": {"test": "datum.value > 0.17", "value": 0}, "value": 1}}},
  "y2": {"datum": 0}}},
{"transform": [{"filter": "datum.s == 'lab'"}], "mark": {"type": "rule", "color": "#bdbdbd", "strokeWidth": 1.3}, "encoding": {"y": {"datum": 0, "type": "quantitative", "title": null}}},
{"transform": [{"filter": "datum.s == 'o'"}], "mark": {"type": "line", "color": "black", "strokeWidth": 2}, "encoding": {"x": {"field": "x", "type": "quantitative", "title": null}, "y": {"field": "y", "type": "quantitative", "title": null}}},
{"transform": [{"filter": "datum.s == 'o'"}], "mark": {"type": "circle", "color": "black", "size": 26, "opacity": 1}, "encoding": {"x": {"field": "x", "type": "quantitative", "title": null}, "y": {"field": "y", "type": "quantitative", "title": null}}},
{"transform": [{"filter": "datum.s == 'e'"}], "mark": {"type": "line", "color": "#ff0000", "strokeWidth": 1.6}, "encoding": {"x": {"field": "x", "type": "quantitative", "title": null}, "y": {"field": "y", "type": "quantitative", "title": null}}},
{"transform": [{"filter": "datum.s == 'lab'"}], "mark": {"type": "text", "align": "left", "baseline": "alphabetic", "dx": 6, "dy": 22.5, "fontSize": 23.5, "fontWeight": "bold", "color": "black"}, "encoding": {"x": {"datum": 9.6, "type": "quantitative", "title": null}, "y": {"datum": 0.1835, "type": "quantitative", "title": null}, "text": {"field": "yr"}}},
{"transform": [{"filter": "datum.s == 'lab'"}], "mark": {"type": "text", "align": "right", "baseline": "alphabetic", "dx": -1.5, "dy": 17.5, "fontSize": 19.5, "color": "black"}, "encoding": {"x": {"datum": 108.5, "type": "quantitative", "title": null}, "y": {"datum": 0.1835, "type": "quantitative", "title": null}, "text": {"field": "N"}}},
{"transform": [{"filter": "datum.s == 'lab'"}], "mark": {"type": "text", "align": "right", "baseline": "alphabetic", "dx": -1.5, "dy": 35.7, "fontSize": 19.5, "color": "black"}, "encoding": {"x": {"datum": 108.5, "type": "quantitative", "title": null}, "y": {"datum": 0.1835, "type": "quantitative", "title": null}, "text": {"field": "eff"}}}
]}
},
{
"data": {"name": "L2"},
"bounds": "flush",
"spacing": 0,
"facet": {"row": {"field": "yr", "type": "nominal", "title": null, "header": {"labels": false, "title": null}}},
"spec": {
"width": 180, "height": 168,
"layer": [
{"transform": [{"filter": "datum.s == 'o'"}], "mark": {"type": "area", "color": "#cbcbcb", "opacity": 1},
 "encoding": {
  "x": {"field": "x", "type": "quantitative", "title": null, "scale": {"domain": [9.6, 108.5], "nice": false, "zero": false}, "axis": {"values": [20, 40, 60, 80, 100], "tickCount": 10, "labelExpr": "datum.value % 40 == 20 ? datum.label : ''", "domain": false, "grid": false, "tickSize": 11, "tickWidth": 1.5, "tickColor": "black", "labelFontSize": 18, "labelPadding": 17, "labelFlush": false, "labelOverlap": false, "labelColor": "black"}},
  "y": {"field": "y", "type": "quantitative", "title": null, "scale": {"domain": [-0.0069, 0.1835], "nice": false, "zero": false}, "axis": null},
  "y2": {"datum": 0}}},
{"transform": [{"filter": "datum.s == 'lab'"}], "mark": {"type": "rule", "color": "#bdbdbd", "strokeWidth": 1.3}, "encoding": {"y": {"datum": 0, "type": "quantitative", "title": null}}},
{"transform": [{"filter": "datum.s == 'o'"}], "mark": {"type": "line", "color": "black", "strokeWidth": 2}, "encoding": {"x": {"field": "x", "type": "quantitative", "title": null}, "y": {"field": "y", "type": "quantitative", "title": null}}},
{"transform": [{"filter": "datum.s == 'o'"}], "mark": {"type": "circle", "color": "black", "size": 26, "opacity": 1}, "encoding": {"x": {"field": "x", "type": "quantitative", "title": null}, "y": {"field": "y", "type": "quantitative", "title": null}}},
{"transform": [{"filter": "datum.s == 'e'"}], "mark": {"type": "line", "color": "#ff0000", "strokeWidth": 1.6}, "encoding": {"x": {"field": "x", "type": "quantitative", "title": null}, "y": {"field": "y", "type": "quantitative", "title": null}}},
{"transform": [{"filter": "datum.s == 'lab'"}], "mark": {"type": "text", "align": "left", "baseline": "alphabetic", "dx": 6, "dy": 22.5, "fontSize": 23.5, "fontWeight": "bold", "color": "black"}, "encoding": {"x": {"datum": 9.6, "type": "quantitative", "title": null}, "y": {"datum": 0.1835, "type": "quantitative", "title": null}, "text": {"field": "yr"}}},
{"transform": [{"filter": "datum.s == 'lab'"}], "mark": {"type": "text", "align": "right", "baseline": "alphabetic", "dx": -1.5, "dy": 17.5, "fontSize": 19.5, "color": "black"}, "encoding": {"x": {"datum": 108.5, "type": "quantitative", "title": null}, "y": {"datum": 0.1835, "type": "quantitative", "title": null}, "text": {"field": "N"}}},
{"transform": [{"filter": "datum.s == 'lab'"}], "mark": {"type": "text", "align": "right", "baseline": "alphabetic", "dx": -1.5, "dy": 35.7, "fontSize": 19.5, "color": "black"}, "encoding": {"x": {"datum": 108.5, "type": "quantitative", "title": null}, "y": {"datum": 0.1835, "type": "quantitative", "title": null}, "text": {"field": "eff"}}}
]}
}
]
},
{
"spacing": -2,
"title": {"text": "Proportion", "orient": "left", "anchor": "middle", "fontSize": 30, "fontWeight": "normal", "font": "Liberation Sans", "color": "black", "offset": 22, "dx": 19},
"hconcat": [
{
"data": {"name": "R1"},
"bounds": "flush",
"spacing": 0,
"facet": {"row": {"field": "yr", "type": "nominal", "title": null, "header": {"labels": false, "title": null}}},
"spec": {
"width": 180, "height": 168,
"layer": [
{"transform": [{"filter": "datum.s == 'o'"}], "mark": {"type": "area", "color": "#cbcbcb", "opacity": 1},
 "encoding": {
  "x": {"field": "x", "type": "quantitative", "title": null, "scale": {"domain": [1.9, 98.1], "nice": false, "zero": false}, "axis": {"values": [20, 40, 60, 80], "tickCount": 10, "labelExpr": "datum.value % 40 == 20 ? datum.label : ''", "domain": false, "grid": false, "tickSize": 11, "tickWidth": 1.5, "tickColor": "black", "labelFontSize": 18, "labelPadding": 17, "labelFlush": false, "labelOverlap": false, "labelColor": "black"}},
  "y": {"field": "y", "type": "quantitative", "title": null, "scale": {"domain": [-0.0094, 0.2547], "nice": false, "zero": false}, "axis": {"values": [0, 0.05, 0.1, 0.15, 0.2, 0.25], "tickCount": 10, "format": ".2f", "domain": false, "grid": false, "tickSize": 11, "tickWidth": 1.5, "tickColor": "black", "labelFontSize": 19, "labelPadding": 13, "labelOverlap": false, "labelColor": "black"}},
  "y2": {"datum": 0}}},
{"transform": [{"filter": "datum.s == 'lab'"}], "mark": {"type": "rule", "color": "#bdbdbd", "strokeWidth": 1.3}, "encoding": {"y": {"datum": 0, "type": "quantitative", "title": null}}},
{"transform": [{"filter": "datum.s == 'o'"}], "mark": {"type": "line", "color": "black", "strokeWidth": 2}, "encoding": {"x": {"field": "x", "type": "quantitative", "title": null}, "y": {"field": "y", "type": "quantitative", "title": null}}},
{"transform": [{"filter": "datum.s == 'o'"}], "mark": {"type": "circle", "color": "black", "size": 26, "opacity": 1}, "encoding": {"x": {"field": "x", "type": "quantitative", "title": null}, "y": {"field": "y", "type": "quantitative", "title": null}}},
{"transform": [{"filter": "datum.s == 'e'"}], "mark": {"type": "line", "color": "#ff0000", "strokeWidth": 1.6}, "encoding": {"x": {"field": "x", "type": "quantitative", "title": null}, "y": {"field": "y", "type": "quantitative", "title": null}}},
{"transform": [{"filter": "datum.s == 'lab'"}], "mark": {"type": "text", "align": "left", "baseline": "alphabetic", "dx": 6, "dy": 22.5, "fontSize": 23.5, "fontWeight": "bold", "color": "black"}, "encoding": {"x": {"datum": 1.9, "type": "quantitative", "title": null}, "y": {"datum": 0.2547, "type": "quantitative", "title": null}, "text": {"field": "yr"}}},
{"transform": [{"filter": "datum.s == 'lab'"}], "mark": {"type": "text", "align": "right", "baseline": "alphabetic", "dx": -1.5, "dy": 17.5, "fontSize": 19.5, "color": "black"}, "encoding": {"x": {"datum": 98.1, "type": "quantitative", "title": null}, "y": {"datum": 0.2547, "type": "quantitative", "title": null}, "text": {"field": "N"}}},
{"transform": [{"filter": "datum.s == 'lab'"}], "mark": {"type": "text", "align": "right", "baseline": "alphabetic", "dx": -1.5, "dy": 35.7, "fontSize": 19.5, "color": "black"}, "encoding": {"x": {"datum": 98.1, "type": "quantitative", "title": null}, "y": {"datum": 0.2547, "type": "quantitative", "title": null}, "text": {"field": "eff"}}}
]}
},
{
"data": {"name": "R2"},
"bounds": "flush",
"spacing": 0,
"facet": {"row": {"field": "yr", "type": "nominal", "title": null, "header": {"labels": false, "title": null}}},
"spec": {
"width": 180, "height": 168,
"layer": [
{"transform": [{"filter": "datum.s == 'o'"}], "mark": {"type": "area", "color": "#cbcbcb", "opacity": 1},
 "encoding": {
  "x": {"field": "x", "type": "quantitative", "title": null, "scale": {"domain": [1.9, 98.1], "nice": false, "zero": false}, "axis": {"values": [20, 40, 60, 80], "tickCount": 10, "labelExpr": "datum.value % 40 == 20 ? datum.label : ''", "domain": false, "grid": false, "tickSize": 11, "tickWidth": 1.5, "tickColor": "black", "labelFontSize": 18, "labelPadding": 17, "labelFlush": false, "labelOverlap": false, "labelColor": "black"}},
  "y": {"field": "y", "type": "quantitative", "title": null, "scale": {"domain": [-0.0094, 0.2547], "nice": false, "zero": false}, "axis": null},
  "y2": {"datum": 0}}},
{"transform": [{"filter": "datum.s == 'lab'"}], "mark": {"type": "rule", "color": "#bdbdbd", "strokeWidth": 1.3}, "encoding": {"y": {"datum": 0, "type": "quantitative", "title": null}}},
{"transform": [{"filter": "datum.s == 'o'"}], "mark": {"type": "line", "color": "black", "strokeWidth": 2}, "encoding": {"x": {"field": "x", "type": "quantitative", "title": null}, "y": {"field": "y", "type": "quantitative", "title": null}}},
{"transform": [{"filter": "datum.s == 'o'"}], "mark": {"type": "circle", "color": "black", "size": 26, "opacity": 1}, "encoding": {"x": {"field": "x", "type": "quantitative", "title": null}, "y": {"field": "y", "type": "quantitative", "title": null}}},
{"transform": [{"filter": "datum.s == 'e'"}], "mark": {"type": "line", "color": "#ff0000", "strokeWidth": 1.6}, "encoding": {"x": {"field": "x", "type": "quantitative", "title": null}, "y": {"field": "y", "type": "quantitative", "title": null}}},
{"transform": [{"filter": "datum.s == 'lab'"}], "mark": {"type": "text", "align": "left", "baseline": "alphabetic", "dx": 6, "dy": 22.5, "fontSize": 23.5, "fontWeight": "bold", "color": "black"}, "encoding": {"x": {"datum": 1.9, "type": "quantitative", "title": null}, "y": {"datum": 0.2547, "type": "quantitative", "title": null}, "text": {"field": "yr"}}},
{"transform": [{"filter": "datum.s == 'lab'"}], "mark": {"type": "text", "align": "right", "baseline": "alphabetic", "dx": -1.5, "dy": 17.5, "fontSize": 19.5, "color": "black"}, "encoding": {"x": {"datum": 98.1, "type": "quantitative", "title": null}, "y": {"datum": 0.2547, "type": "quantitative", "title": null}, "text": {"field": "N"}}},
{"transform": [{"filter": "datum.s == 'lab'"}], "mark": {"type": "text", "align": "right", "baseline": "alphabetic", "dx": -1.5, "dy": 35.7, "fontSize": 19.5, "color": "black"}, "encoding": {"x": {"datum": 98.1, "type": "quantitative", "title": null}, "y": {"datum": 0.2547, "type": "quantitative", "title": null}, "text": {"field": "eff"}}}
]}
}
]
}
]
}
